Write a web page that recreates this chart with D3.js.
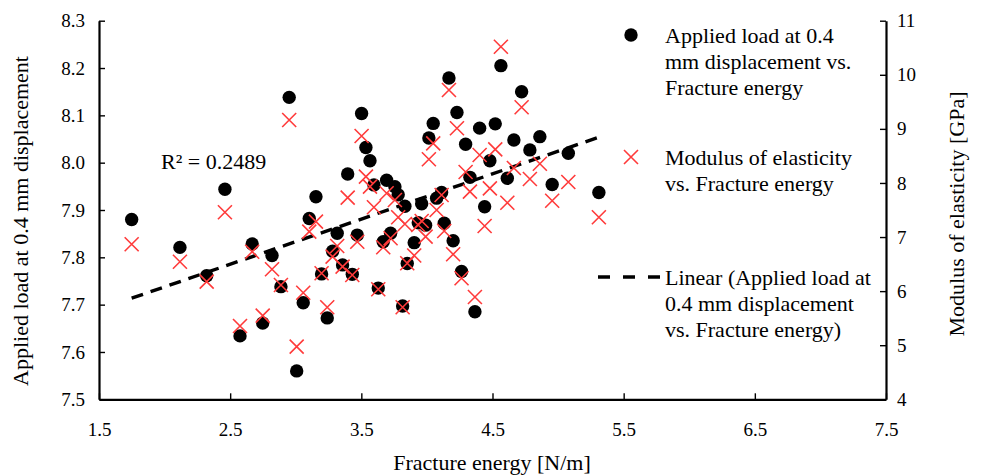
<!DOCTYPE html>
<html>
<head>
<meta charset="utf-8">
<script src="https://cdn.jsdelivr.net/npm/d3@7"></script>
<style>
  html, body { margin: 0; padding: 0; background: #fff; }
  svg { display: block; font-family: "Liberation Serif", "Times New Roman", serif; }
</style>
</head>
<body>
<svg id="chart" width="984" height="475"></svg>
<script>
// Fracture energy [N/m] of each specimen
const energy = [1.749, 2.117, 2.321, 2.460, 2.575, 2.668, 2.748, 2.819, 2.887, 2.950,
  3.007, 3.057, 3.103, 3.154, 3.197, 3.240, 3.281, 3.316, 3.357, 3.396,
  3.431, 3.469, 3.502, 3.535, 3.566, 3.596, 3.629, 3.667, 3.693, 3.723,
  3.756, 3.781, 3.815, 3.832, 3.850, 3.903, 3.934, 3.960, 3.990, 4.015,
  4.048, 4.074, 4.112, 4.132, 4.168, 4.200, 4.229, 4.264, 4.295, 4.328,
  4.366, 4.402, 4.440, 4.480, 4.521, 4.564, 4.613, 4.663, 4.722, 4.785,
  4.861, 4.955, 5.078, 5.311];

// Applied load at 0.4 mm displacement (left axis)
const load = [7.880, 7.821, 7.761, 7.944, 7.634, 7.828, 7.661, 7.804, 7.738, 8.138,
  7.560, 7.704, 7.882, 7.928, 7.765, 7.672, 7.813, 7.851, 7.784, 7.976,
  7.764, 7.847, 8.104, 8.032, 8.004, 7.953, 7.735, 7.833, 7.963, 7.851,
  7.949, 7.932, 7.697, 7.908, 7.787, 7.831, 7.873, 7.913, 7.868, 8.052,
  8.083, 7.925, 7.937, 7.872, 8.179, 7.835, 8.106, 7.770, 8.039, 7.969,
  7.685, 8.073, 7.907, 8.004, 8.082, 8.205, 7.967, 8.048, 8.150, 8.027,
  8.055, 7.954, 8.020, 7.937];

// Modulus of elasticity [GPa] (right axis)
const modulus = [6.866, 6.544, 6.175, 7.458, 5.356, 6.729, 5.546, 6.404, 6.114, 9.164,
  4.973, 5.971, 7.099, 7.284, 6.330, 5.701, 6.637, 6.835, 6.452, 7.728,
  6.299, 6.914, 8.868, 8.116, 7.931, 7.550, 6.034, 6.811, 7.809, 6.977,
  7.685, 7.365, 5.701, 7.241, 6.515, 6.659, 7.223, 7.297, 7.007, 8.438,
  8.733, 7.500, 7.778, 7.112, 9.719, 6.681, 9.011, 6.238, 8.203, 7.839,
  5.892, 8.517, 7.204, 7.901, 8.622, 10.519, 7.635, 8.277, 9.399, 8.073,
  8.356, 7.670, 8.018, 7.365];

const xTicks = [1.5, 2.5, 3.5, 4.5, 5.5, 6.5, 7.5];
const loadTicks = [7.5, 7.6, 7.7, 7.8, 7.9, 8.0, 8.1, 8.2, 8.3];
const modulusTicks = [4, 5, 6, 7, 8, 9, 10, 11];

const rSquaredLabel = "R² = 0.2489";
const legendItems = [
  ["Applied load at 0.4", "mm displacement vs.", "Fracture energy"],
  ["Modulus of elasticity", "vs. Fracture energy"],
  ["Linear (Applied load at", "0.4 mm displacement", "vs. Fracture energy)"]
];

const svg = d3.select("#chart");
const plotLeft = 99, plotRight = 886, plotTop = 20.7, plotBottom = 399.3;

const x = d3.scaleLinear().domain([1.5, 7.5]).range([plotLeft, plotRight]);
const yL = d3.scaleLinear().domain([7.5, 8.3]).range([plotBottom, plotTop]);
const yR = d3.scaleLinear().domain([4, 11]).range([plotBottom, plotTop]);

const RED = "#ff3b3b";
const tickFont = "19px";
const titleFont = "22px";

function styleAxis(g) {
  g.select(".domain").attr("stroke", "#000").attr("stroke-width", 2.2);
  g.selectAll(".tick line").attr("stroke", "#000").attr("stroke-width", 1.4);
  g.selectAll(".tick text").attr("fill", "#000")
    .style("font-size", tickFont).style("font-family", "Liberation Serif");
}

// axes
svg.append("g").attr("transform", `translate(0,${plotBottom})`)
  .call(d3.axisBottom(x).tickValues(xTicks).tickFormat(d3.format(".1f"))
    .tickSizeInner(-6).tickSizeOuter(0).tickPadding(23))
  .call(styleAxis);

svg.append("g").attr("transform", `translate(${plotLeft},0)`)
  .call(d3.axisLeft(yL).tickValues(loadTicks).tickFormat(d3.format(".1f"))
    .tickSizeInner(-6).tickSizeOuter(0).tickPadding(14))
  .call(styleAxis);

svg.append("g").attr("transform", `translate(${plotRight},0)`)
  .call(d3.axisRight(yR).tickValues(modulusTicks).tickFormat(d3.format("d"))
    .tickSizeInner(-6).tickSizeOuter(0).tickPadding(11))
  .call(styleAxis);

// linear least-squares fit of load against energy
const mx = d3.mean(energy), my = d3.mean(load);
let sxy = 0, sxx = 0;
energy.forEach((e, i) => { sxy += (e - mx) * (load[i] - my); sxx += (e - mx) * (e - mx); });
const slope = sxy / sxx, intercept = my - slope * mx;
const [eMin, eMax] = d3.extent(energy);

svg.append("line")
  .attr("x1", x(eMin)).attr("y1", yL(intercept + slope * eMin))
  .attr("x2", x(eMax)).attr("y2", yL(intercept + slope * eMax))
  .attr("stroke", "#000").attr("stroke-width", 3.4).attr("stroke-dasharray", "12,8");

// applied load markers
svg.append("g").selectAll("circle").data(energy).join("circle")
  .attr("cx", d => x(d)).attr("cy", (d, i) => yL(load[i]))
  .attr("r", 6.7).attr("fill", "#000");

// modulus markers
const cs = 7;
function cross(sel, cx, cy) {
  sel.append("path")
    .attr("d", `M${cx - cs},${cy - cs}L${cx + cs},${cy + cs}M${cx - cs},${cy + cs}L${cx + cs},${cy - cs}`)
    .attr("stroke", RED).attr("stroke-width", 1.6).attr("fill", "none");
}
const crosses = svg.append("g");
energy.forEach((e, i) => cross(crosses, x(e), yR(modulus[i])));

// R² annotation
svg.append("text").attr("x", 161).attr("y", 169)
  .style("font-size", titleFont).text(rSquaredLabel);

// axis titles
svg.append("text").attr("x", 492).attr("y", 470).attr("text-anchor", "middle")
  .style("font-size", titleFont).text("Fracture energy [N/m]");
svg.append("text").attr("transform", "translate(28,221) rotate(-90)")
  .attr("text-anchor", "middle").style("font-size", titleFont)
  .text("Applied load at 0.4 mm displacement");
svg.append("text").attr("transform", "translate(964,214) rotate(-90)")
  .attr("text-anchor", "middle").style("font-size", titleFont)
  .text("Modulus of elasticity [GPa]");

// legend
const lg = svg.append("g");
const lineH = 26.3;
const tx = 665;
lg.append("circle").attr("cx", 631).attr("cy", 35).attr("r", 6.7).attr("fill", "#000");
cross(lg, 631, 157);
lg.append("line").attr("x1", 598).attr("x2", 661).attr("y1", 277).attr("y2", 277)
  .attr("stroke", "#000").attr("stroke-width", 3.4).attr("stroke-dasharray", "12,13");
const baselines = [42.5, 164.5, 284.5];
legendItems.forEach((lines, k) => {
  const t = lg.append("text").attr("x", tx).attr("y", baselines[k]).style("font-size", titleFont);
  lines.forEach((s, j) => t.append("tspan").attr("x", tx).attr("dy", j ? lineH : 0).text(s));
});
</script>
</body>
</html>
